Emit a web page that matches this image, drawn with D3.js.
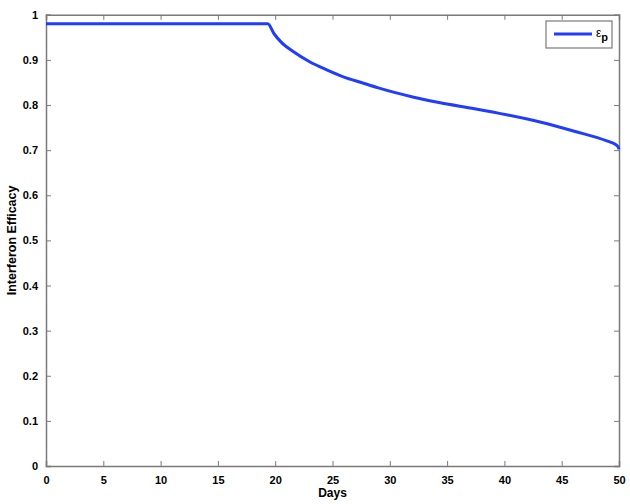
<!DOCTYPE html>
<html>
<head>
<meta charset="utf-8">
<script src="https://cdn.jsdelivr.net/npm/d3@7"></script>
<style>
  body { margin: 0; background: #fff; }
  #graph { width: 630px; height: 504px; }
  text { font-family: Arial, 'Liberation Sans', Helvetica, sans-serif; }
  .tick text { font-size: 11px; font-weight: bold; fill: #000; }
  .axis-label { font-size: 12px; font-weight: bold; }
</style>
</head>
<body>
<div id="graph"></div>
<script>
// values

var days = [0, 19.35, 19.9, 20.5, 21.6, 23, 24.5, 26, 27.5, 29, 30.4, 32, 34.4, 37.4, 40.3, 43.2, 46.1, 49.0, 49.6, 49.9, 50];
var efficacy = [0.98, 0.98, 0.958, 0.94, 0.918, 0.896, 0.878, 0.862, 0.85, 0.838, 0.828, 0.818, 0.805, 0.792, 0.778, 0.762, 0.742, 0.72, 0.714, 0.708, 0.702];
var xTicks = [0, 5, 10, 15, 20, 25, 30, 35, 40, 45, 50];
var yTicks = [0, 0.1, 0.2, 0.3, 0.4, 0.5, 0.6, 0.7, 0.8, 0.9, 1];

var w = 630, h = 504;
// note: "top" is taken by window.top, so prefix everything
var padL = 46, padR = 619, padT = 14.8, padB = 466;
var axisColor = '#7a7a7a';

var svg = d3
  .select('#graph')
  .append('svg')
  .attr('width', w)
  .attr('height', h);

var xscale = d3.scaleLinear().domain([0, 50]).range([padL, padR]);
var yscale = d3.scaleLinear().domain([0, 1]).range([padB, padT]);

// ticks point inward, like matlab
var x_axis = d3.axisBottom(xscale).tickValues(xTicks).tickSize(-5).tickPadding(10).tickFormat(d3.format('d'));
var y_axis = d3.axisLeft(yscale).tickValues(yTicks).tickSize(-5).tickPadding(8).tickFormat(function(d) { return d === 0 || d === 1 ? d : d.toFixed(1); });
var x_top = d3.axisTop(xscale).tickValues(xTicks).tickSize(-5).tickFormat('');
var y_right = d3.axisRight(yscale).tickValues(yTicks).tickSize(-5).tickFormat('');

function styleAxis(g) {
  g.selectAll('path').attr('stroke', axisColor);
  g.selectAll('line').attr('stroke', axisColor);
}

svg.append('g').attr('transform', 'translate(0,' + padB + ')').call(x_axis).call(styleAxis);
svg.append('g').attr('transform', 'translate(' + padL + ',0)').call(y_axis).call(styleAxis);
svg.append('g').attr('transform', 'translate(0,' + padT + ')').call(x_top).call(styleAxis);
svg.append('g').attr('transform', 'translate(' + padR + ',0)').call(y_right).call(styleAxis);

svg.selectAll('.domain').attr('stroke-width', 1.5);

svg
  .append('text')
  .attr('class', 'axis-label')
  .attr('x', (padL + padR) / 2)
  .attr('y', 497)
  .attr('text-anchor', 'middle')
  .text('Days');

svg
  .append('text')
  .attr('class', 'axis-label')
  .attr('font-size', '12.5px')
  .style('font-size', '12.5px')
  .attr('transform', 'translate(15.5,' + (padT + padB) / 2 + ') rotate(-90)')
  .attr('text-anchor', 'middle')
  .text('Interferon Efficacy');

var pts = days.map(function(d, i) { return [d, efficacy[i]]; });

var line = d3
  .line()
  .x(function(d) { return xscale(d[0]); })
  .y(function(d) { return yscale(d[1]); })
  .curve(d3.curveMonotoneX);

svg
  .append('path')
  .datum(pts)
  .attr('d', line)
  .attr('fill', 'none')
  .attr('stroke', '#1f3cff')
  .attr('stroke-width', 3);

// legend

var legend = svg.append('g').attr('transform', 'translate(546,21)');

legend
  .append('rect')
  .attr('width', 66)
  .attr('height', 27)
  .attr('fill', '#fff')
  .attr('stroke', axisColor)
  .attr('stroke-width', 1.2);

legend
  .append('line')
  .attr('x1', 8)
  .attr('x2', 46)
  .attr('y1', 13)
  .attr('y2', 13)
  .attr('stroke', '#1f3cff')
  .attr('stroke-width', 3);

var lt = legend.append('text').attr('x', 50).attr('y', 16).attr('font-size', 12);
lt.append('tspan').text('ε');
lt.append('tspan').attr('dy', 4).attr('font-size', 11).attr('font-weight', 'bold').text('p');
</script>
</body>
</html>
